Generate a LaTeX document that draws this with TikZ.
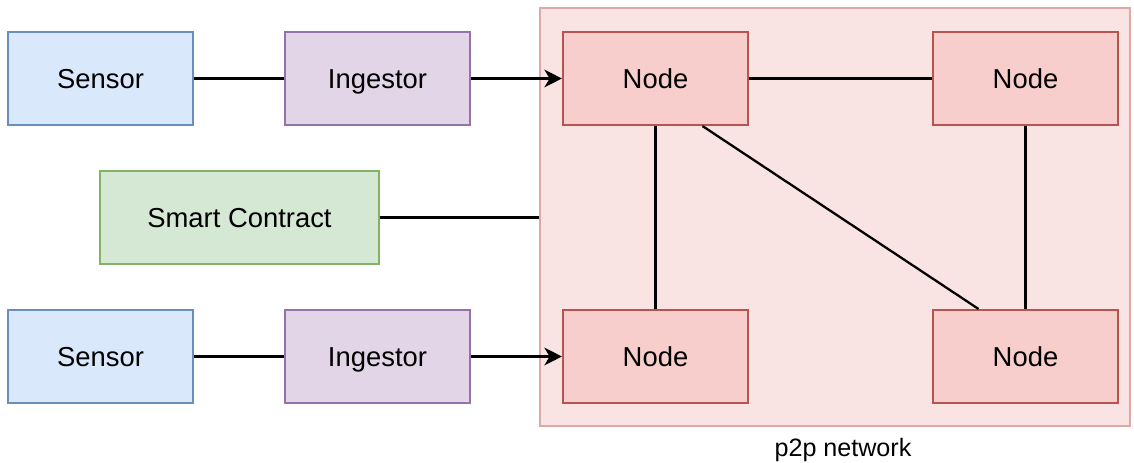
\documentclass[tikz,border=0pt]{standalone}
\usepackage{fontspec}
\setmainfont{Liberation Sans}
\usetikzlibrary{arrows.meta}

\definecolor{sensorfill}{HTML}{DAE8FC}
\definecolor{sensorline}{HTML}{6C8EBF}
\definecolor{ingestfill}{HTML}{E1D5E7}
\definecolor{ingestline}{HTML}{9673A6}
\definecolor{contractfill}{HTML}{D5E8D4}
\definecolor{contractline}{HTML}{82B366}
\definecolor{peerfill}{HTML}{F8CECC}
\definecolor{peerline}{HTML}{B85450}
\definecolor{netfill}{HTML}{FAE3E3}
\definecolor{netline}{HTML}{DCA9A7}

\tikzset{
  box/.style={draw, line width=1.2pt, minimum width=3.7cm, minimum height=1.86cm, inner sep=0pt, text height=14.5pt, text depth=3.3pt, font=\fontsize{15.6}{18}\selectfont},
  sensorbox/.style={box, fill=sensorfill, draw=sensorline},
  ingestbox/.style={box, fill=ingestfill, draw=ingestline},
  peerbox/.style={box, fill=peerfill, draw=peerline},
  link/.style={line width=1.3pt},
  feed/.style={link, -{Stealth[length=10pt, width=10pt, inset=3pt]}}
}

\begin{document}
\begin{tikzpicture}[x=0.02cm, y=-0.02cm]
\useasboundingbox (0,0) rectangle (1134,463);
\node[draw=netline, fill=netfill, line width=1.2pt, minimum width=11.8cm, minimum height=8.36cm, inner sep=0pt] (net) at (835,217) {};
\node[font=\fontsize{14.3}{17}\selectfont] (netlabel) at (843,450) {p2p network};
\foreach \Point/\Name/\Style/\Label in {(100.5,78.5)/sensorA/sensorbox/Sensor, (377.5,78.5)/ingestorA/ingestbox/Ingestor, (100.5,356.5)/sensorB/sensorbox/Sensor, (377.5,356.5)/ingestorB/ingestbox/Ingestor, (655.5,78.5)/nodeA/peerbox/Node, (1025.5,78.5)/nodeB/peerbox/Node, (655.5,356.5)/nodeC/peerbox/Node, (1025.5,356.5)/nodeD/peerbox/Node}
    \node[\Style] (\Name) at \Point {\Label};
\node[box, fill=contractfill, draw=contractline, minimum width=5.58cm] (contract) at (239.5,217.5) {Smart Contract};
\draw[link] (sensorA) -- (ingestorA);
\draw[link] (sensorB) -- (ingestorB);
\draw[feed] (ingestorA) -- (nodeA);
\draw[feed] (ingestorB) -- (nodeC);
\draw[link] (contract.east) -- (contract.east -| net.west);
\draw[link] (nodeA) -- (nodeB);
\draw[link] (nodeA.south) -- (nodeC.north);
\draw[link] (nodeB.south) -- (nodeD.north);
\draw[link] ([xshift=0.94cm]nodeA.south) -- ([xshift=-0.94cm]nodeD.north);
\end{tikzpicture}
\end{document}
